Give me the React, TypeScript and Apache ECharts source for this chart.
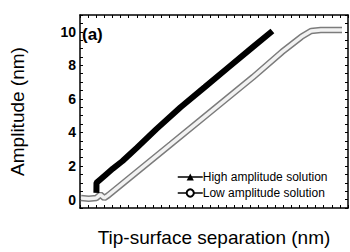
import React, { useEffect, useRef } from "react";
import * as echarts from "echarts";

// Tip-surface separation (nm, axis units) and amplitude (nm)
const highX = [0.02, 0.03, 0.5, 1.21, 2.05, 3.24, 5.02, 7.4, 10.38, 13.36, 16.33, 19.31, 21.69];
const highY = [0.4, 1.0, 1.2, 1.5, 1.85, 2.3, 3.1, 4.2, 5.5, 6.7, 7.9, 9.1, 10.05];

const lowX = [-1.88, -0.93, 0.02, 0.5, 0.98, 1.45, 9.19, 13.36, 19.31, 22.88, 25.26, 26.45, 27.64, 30.26];
const lowY = [0.1, 0.05, 0.1, 0.3, 0.1, 0.25, 3.3, 4.95, 7.3, 8.8, 9.7, 10.05, 10.1, 10.1];

const yTickLabels = [0, 2, 4, 6, 8, 10];
const seriesNames = ["High amplitude solution", "Low amplitude solution"];

const xMin = -2, xMax = 31, yMin = -0.5, yMax = 11;

export default function App() {
  const ref = useRef<HTMLDivElement>(null);
  useEffect(() => {
    if (!ref.current) return;
    const chart = echarts.init(ref.current, null, { renderer: "svg" });
    const font = "Liberation Sans, Arial, sans-serif";
    const high = highX.map((x, i) => [x, highY[i]]);
    const low = lowX.map((x, i) => [x, lowY[i]]);
    const axisLine = { show: true, onZero: false, lineStyle: { color: "#000", width: 1.5 } };
    const tick = { show: true, inside: true, length: 3, lineStyle: { color: "#000", width: 1 } };
    chart.setOption({
      animation: false,
      backgroundColor: "#fff",
      grid: { left: 71, top: 15, right: 2, bottom: 43, containLabel: false },
      xAxis: [
        {
          type: "value", min: xMin, max: xMax, interval: 1, position: "bottom",
          axisLine, axisTick: tick, axisLabel: { show: false }, splitLine: { show: false },
          name: "Tip-surface separation (nm)", nameLocation: "middle", nameGap: 20,
          nameTextStyle: { fontFamily: font, fontSize: 19, color: "#000" },
        },
        {
          type: "value", min: xMin, max: xMax, interval: 1, position: "top",
          axisLine, axisTick: tick, axisLabel: { show: false }, splitLine: { show: false },
        },
      ],
      yAxis: [
        {
          type: "value", min: yMin, max: yMax, interval: 0.5, position: "left",
          axisLine, axisTick: tick, splitLine: { show: false },
          axisLabel: {
            margin: 4, fontFamily: font, fontSize: 14, fontWeight: "bold", color: "#000",
            formatter: (v: number) => (yTickLabels.some((t) => Math.abs(t - v) < 1e-9) ? String(v) : ""),
          },
          name: "Amplitude (nm)", nameLocation: "middle", nameGap: 53, nameRotate: 90,
          nameTextStyle: { fontFamily: font, fontSize: 19, color: "#000" },
        },
        {
          type: "value", min: yMin, max: yMax, interval: 0.5, position: "right",
          axisLine, axisTick: tick, axisLabel: { show: false }, splitLine: { show: false },
        },
      ],
      legend: {
        data: [
          { name: seriesNames[0], itemStyle: { color: "#000" } },
          { name: seriesNames[1], itemStyle: { color: "#000" } },
        ],
        orient: "vertical", left: 172, top: 166, itemWidth: 25, itemHeight: 9, itemGap: 4,
        selectedMode: false,
        lineStyle: { width: 1.5, color: "#000" },
        textStyle: { fontFamily: font, fontSize: 12, color: "#000", padding: [0, 0, 0, -5] },
      },
      graphic: [
        { type: "text", left: 82, top: 26, style: { text: "(a)", fontFamily: font, fontSize: 17, fontWeight: "bold", fill: "#000" } },
      ],
      series: [
        {
          name: seriesNames[1], type: "line", data: low, symbol: "emptyCircle", showSymbol: false,
          lineStyle: { color: "#7c7c7c", width: 6.5 }, itemStyle: { color: "#7c7c7c" }, z: 2,
        },
        {
          name: "lowFill", type: "line", data: low, symbol: "none",
          lineStyle: { color: "#f2f2f2", width: 3.5 }, z: 3,
        },
        {
          name: seriesNames[0], type: "line", data: high, symbol: "triangle", showSymbol: false,
          lineStyle: { color: "#000", width: 6 }, itemStyle: { color: "#000" }, z: 4,
        },
      ],
    });
    return () => chart.dispose();
  }, []);
  return <div ref={ref} style={{ position: "absolute", left: 0, top: 0, width: 350, height: 252 }} />;
}
